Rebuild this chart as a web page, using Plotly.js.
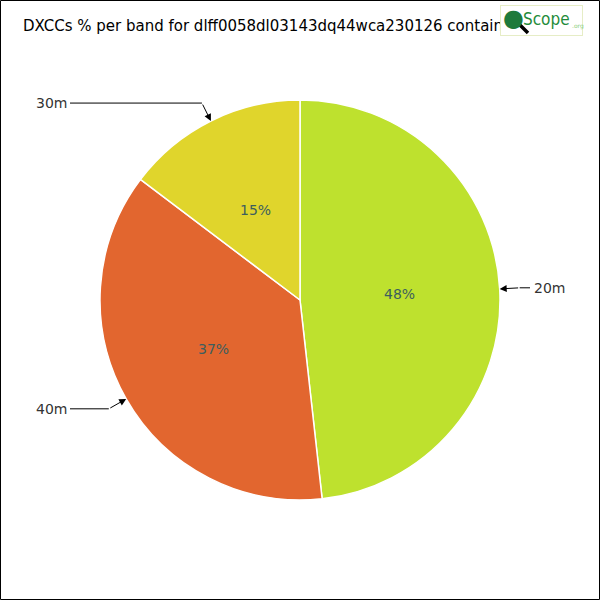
<!DOCTYPE html>
<html><head><meta charset="utf-8">
<script src="https://cdn.plot.ly/plotly-3.0.1.min.js"></script>
<style>html,body{margin:0;padding:0;background:#fff}#chart{width:600px;height:600px}</style>
</head><body><div id="chart"></div>
<script>
const bands = ['20m', '40m', '30m'];
const counts = [82, 63, 25];
const sliceColors = ['#bee12e', '#e2662f', '#e0d52c'];
const titleText = 'DXCCs % per band for dlff0058dl03143dq44wca230126 container';

const W = 600, H = 600, M = 100, PW = 400, PH = 400;
const CX = 300, CY = 300, R = 200;
const X = px => (px - M) / PW;
const Y = py => 1 - (py - M) / PH;

const total = counts.reduce((a, b) => a + b, 0);
const shapes = [];
const annotations = [];
let cum = 0;
counts.forEach((v, i) => {
  const mid = (cum + v / 2) / total * 2 * Math.PI;
  cum += v;
  const s = Math.sin(mid), c = Math.cos(mid);
  const ex = CX + R * s, ey = CY - R * c;
  const bx = CX + (R + 20) * s, by = CY - (R + 20) * c;
  const left = s < 0;
  const lx = left ? CX - 230 : CX + 230;
  shapes.push({type: 'line', xref: 'paper', yref: 'paper', x0: X(bx), y0: Y(by), x1: X(lx), y1: Y(by),
    line: {color: '#000', width: 1}});
  annotations.push({xref: 'paper', yref: 'paper', x: X(ex), y: Y(ey), ax: bx - ex, ay: by - ey,
    text: '', showarrow: true, arrowhead: 2, arrowsize: 1.4, arrowwidth: 1, arrowcolor: '#000', standoff: 0});
  annotations.push({xref: 'paper', yref: 'paper', x: X(left ? lx - 1 : lx + 2), y: Y(by),
    xanchor: left ? 'right' : 'left', yanchor: 'middle', text: bands[i], showarrow: false,
    font: {family: 'DejaVu Sans', size: 14, color: '#333'}});
  annotations.push({xref: 'paper', yref: 'paper', x: X(CX + R / 2 * s), y: Y(CY - R / 2 * c),
    xanchor: 'center', yanchor: 'middle', showarrow: false,
    text: Math.round(v / total * 100) + '%',
    font: {family: 'DejaVu Sans', size: 14, color: '#3d5e5e'}});
});

// border
shapes.push({type: 'rect', xref: 'paper', yref: 'paper', x0: X(0.5), y0: Y(0.5), x1: X(599.5), y1: Y(599.5),
  line: {color: '#000', width: 1}});
// logo
annotations.push({xref: 'paper', yref: 'paper', x: X(500), y: Y(5), xanchor: 'left', yanchor: 'top',
  text: ' ', showarrow: false, width: 81, height: 29, bgcolor: '#fff', bordercolor: '#e6edc6', borderwidth: 1, borderpad: 0});
annotations.push({xref: 'paper', yref: 'paper', x: X(528), y: Y(33), ax: -10, ay: -10,
  text: '', showarrow: true, arrowhead: 0, arrowwidth: 3.5, arrowcolor: '#000', standoff: 0});
annotations.push({xref: 'paper', yref: 'paper', x: X(513.5), y: Y(18), xanchor: 'center', yanchor: 'middle',
  text: '●', showarrow: false, font: {family: 'DejaVu Sans', size: 24, color: '#1d7a3c'}});
annotations.push({xref: 'paper', yref: 'paper', x: X(521), y: Y(19), xanchor: 'left', yanchor: 'middle',
  text: 'Scope', showarrow: false, font: {family: 'DejaVu Sans Condensed', size: 17, color: '#1f8c3b'}});
annotations.push({xref: 'paper', yref: 'paper', x: X(570), y: Y(26), xanchor: 'left', yanchor: 'middle',
  text: '.org', showarrow: false, font: {family: 'DejaVu Sans', size: 6, color: '#8fcf7f'}});

const trace = {
  type: 'pie', labels: bands, values: counts, sort: false, direction: 'clockwise', rotation: 0,
  marker: {colors: sliceColors, line: {color: '#fff', width: 1.5}},
  textinfo: 'none', textposition: 'none',
  hoverinfo: 'none', showlegend: false
};

const layout = {
  width: W, height: H, margin: {l: M, r: M, t: M, b: M},
  paper_bgcolor: '#fff', showlegend: false,
  title: {text: titleText, xref: 'container', yref: 'container', x: 23 / W, xanchor: 'left',
    y: 1 - 26 / H, yanchor: 'middle', font: {family: 'DejaVu Sans', size: 15, color: '#000'}},
  shapes: shapes, annotations: annotations
};
Plotly.newPlot('chart', [trace], layout, {staticPlot: true});
</script></body></html>
